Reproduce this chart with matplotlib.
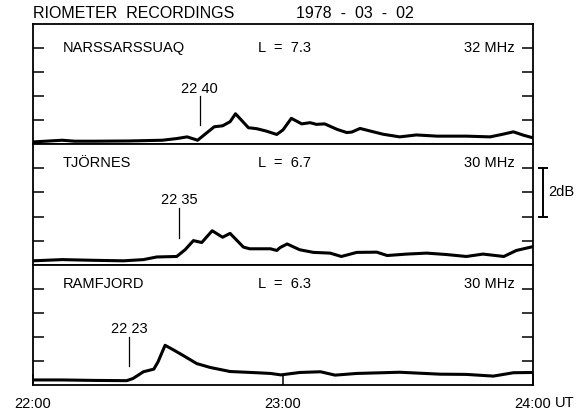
import matplotlib
matplotlib.use("Agg")
import matplotlib.pyplot as plt
import matplotlib.transforms as mtransforms

plt.rcParams['font.family'] = ['Liberation Sans', 'DejaVu Sans']

# minutes after 22:00 UT, absorption in dB
narssarssuaq_t = [0, 7, 10, 15, 23, 31, 34.5, 37, 39.5, 41.5, 43.5, 45.5, 47.3, 48.6, 50, 51.7, 53.7, 56, 58.5,
                  60, 62, 64.5, 66.5, 68, 70, 73, 75.3, 76.5, 78.5, 81, 84, 88, 92, 97, 104, 109.7, 112.5, 115.3,
                  117.7, 120]
narssarssuaq_v = [0.10, 0.17, 0.13, 0.13, 0.14, 0.17, 0.24, 0.31, 0.17, 0.45, 0.73, 0.77, 0.94, 1.27, 1.01, 0.69,
                  0.65, 0.55, 0.41, 0.60, 1.08, 0.85, 0.90, 0.83, 0.85, 0.62, 0.49, 0.51, 0.66, 0.55, 0.42, 0.31,
                  0.39, 0.34, 0.34, 0.31, 0.41, 0.52, 0.38, 0.27]

tjornes_t = [0, 7, 15, 21.7, 26.5, 29.7, 34.5, 36.5, 38.5, 40.5, 43, 45.5, 47.3, 50.5, 52, 57, 58.5, 59.3, 61, 64,
             67.3, 71.3, 74, 77.7, 82.5, 85, 89.7, 94.5, 99.3, 104, 108, 113, 116, 120]
tjornes_v = [0.16, 0.21, 0.18, 0.16, 0.21, 0.32, 0.34, 0.62, 1.00, 0.92, 1.41, 1.14, 1.30, 0.73, 0.66, 0.66, 0.59,
             0.71, 0.86, 0.62, 0.51, 0.48, 0.34, 0.51, 0.52, 0.38, 0.44, 0.48, 0.42, 0.34, 0.44, 0.34, 0.59, 0.75]

ramfjord_t = [0, 7, 15, 22.5, 24, 26.5, 29, 30, 31.7, 33.7, 36, 39.3, 42.5, 47.3, 53.7, 57, 59.5, 64, 69, 72.5,
              77.7, 88, 97.7, 104, 110.5, 115.3, 120]
ramfjord_v = [0.21, 0.21, 0.19, 0.18, 0.27, 0.55, 0.66, 0.96, 1.65, 1.46, 1.23, 0.89, 0.73, 0.56, 0.51, 0.48, 0.42,
              0.52, 0.55, 0.41, 0.48, 0.53, 0.45, 0.44, 0.37, 0.51, 0.52]

stations = ['NARSSARSSUAQ', 'TJÖRNES', 'RAMFJORD']
l_values = ['7.3', '6.7', '6.3']
freqs = ['32 MHz', '30 MHz', '30 MHz']
onset_min = [40, 35, 23]
onset_lbl = ['22 40', '22 35', '22 23']
onset_lbl_y = [2.15, 2.5, 2.15]
onset_line = [(0.8, 2.0), (1.12, 2.37), (0.8, 2.0)]
name_y = [3.85, 4.05, 4.05]
series = [(narssarssuaq_t, narssarssuaq_v), (tjornes_t, tjornes_v), (ramfjord_t, ramfjord_v)]

fig = plt.figure(figsize=(5.85, 4.12), dpi=100)
left, right = 33 / 585, 533 / 585
top, bottom = 1 - 24 / 412, 1 - 385 / 412
h = (top - bottom) / 3

axes = []
for i in range(3):
    ax = fig.add_axes([left, top - (i + 1) * h, right - left, h])
    axes.append(ax)
    t, v = series[i]
    ax.plot(t, v, color='k', linewidth=2.2, solid_joinstyle='round', solid_capstyle='round')
    ax.set_xlim(0, 120)
    ax.set_ylim(0, 5.0)
    ax.set_yticks([1, 2, 3, 4])
    ax.tick_params(axis='y', direction='in', length=8, width=1.1, left=True, right=True,
                   labelleft=False, labelright=False)
    for s in ax.spines.values():
        s.set_linewidth(1.3)
    ax.text(7.2, name_y[i], stations[i], fontsize=10.5, va='baseline', ha='left')
    ax.text(54, name_y[i], 'L  =  ' + l_values[i], fontsize=10.5, va='baseline', ha='left')
    ax.text(115.7, name_y[i], freqs[i], fontsize=10.5, va='baseline', ha='right')
    ax.plot([onset_min[i], onset_min[i]], onset_line[i], color='k', linewidth=0.9)
    ax.text(onset_min[i], onset_lbl_y[i], onset_lbl[i], fontsize=10.5, va='baseline', ha='center')
    if i < 2:
        ax.set_xticks([])
    else:
        ax.set_xticks([0, 60, 120])
        ax.set_xticklabels(['22:00', '23:00', '24:00'], fontsize=10.5)
        ax.tick_params(axis='x', direction='in', length=8, width=1.1, pad=9)
        ax.annotate('UT', xy=(120, 0), xytext=(22, -18), textcoords='offset pixels',
                    fontsize=10.5, va='center', ha='left', annotation_clip=False)

# 2 dB scale bar next to the middle panel
ax = axes[1]
trans = mtransforms.blended_transform_factory(ax.transAxes, ax.transData)
ax.plot([1.02, 1.02], [2, 4], color='k', linewidth=1.4, transform=trans, clip_on=False)
ax.plot([1.012, 1.028], [4, 4], color='k', linewidth=1.4, transform=trans, clip_on=False)
ax.plot([1.012, 1.028], [2, 2], color='k', linewidth=1.4, transform=trans, clip_on=False)
ax.text(1.03, 3, '2dB', fontsize=10.5, va='center', ha='left', transform=trans)

fig.text(left, 1 - 13 / 412, 'RIOMETER  RECORDINGS', fontsize=11.5, va='center', ha='left')
fig.text(296 / 585, 1 - 13 / 412, '1978  -  03  -  02', fontsize=11.5, va='center', ha='left')

fig.savefig('out.png', dpi=100)
